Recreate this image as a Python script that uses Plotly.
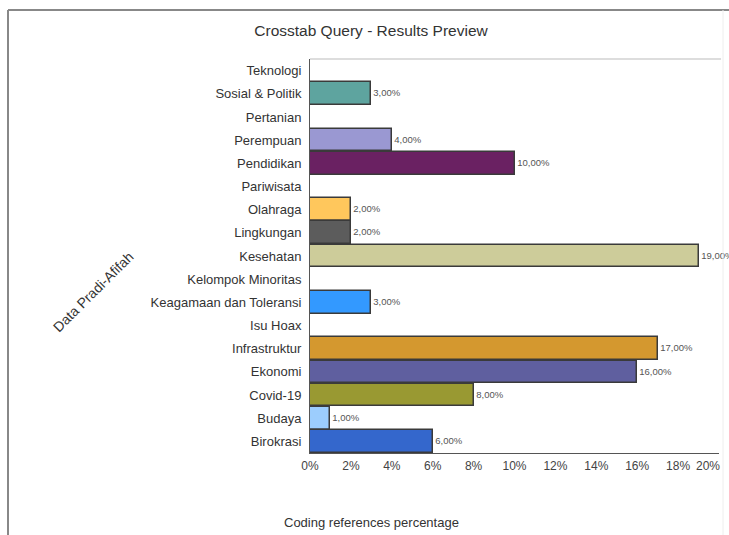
import plotly.graph_objects as go

# Categories listed top to bottom as they appear on the axis
categories = [
    "Teknologi", "Sosial & Politik", "Pertanian", "Perempuan", "Pendidikan",
    "Pariwisata", "Olahraga", "Lingkungan", "Kesehatan", "Kelompok Minoritas",
    "Keagamaan dan Toleransi", "Isu Hoax", "Infrastruktur", "Ekonomi",
    "Covid-19", "Budaya", "Birokrasi",
]
percentages = [0, 3, 0, 4, 10, 0, 2, 2, 19, 0, 3, 0, 17, 16, 8, 1, 6]
bar_colors = [
    "#ffffff", "#5ea49f", "#ffffff", "#9a98d2", "#6a2162",
    "#ffffff", "#ffc75c", "#5c5c5c", "#cdcc9a", "#ffffff",
    "#3399ff", "#ffffff", "#d4982f", "#5f5f9f",
    "#999932", "#9ccdfd", "#3467cc",
]
x_ticks = [0, 2, 4, 6, 8, 10, 12, 14, 16, 18, 20]
x_tick_labels = [f"{t}%" for t in x_ticks]

labels = [(f"{v:.2f}".replace(".", ",") + "%") if v > 0 else "" for v in percentages]

FONT = "Liberation Sans, Arial, sans-serif"

fig = go.Figure(
    go.Bar(
        x=percentages,
        y=categories,
        orientation="h",
        marker=dict(color=bar_colors, line=dict(color="#3a3a3a", width=1.5)),
        text=labels,
        textposition="outside",
        textfont=dict(family=FONT, size=9.5, color="#555555"),
        cliponaxis=False,
        width=[0.98 if v > 0 else 0 for v in percentages],
    )
)

# the last tick label sits flush against the right end of the axis
fig.add_annotation(
    text=x_tick_labels[-1],
    xref="x", yref="paper",
    x=x_ticks[-1], y=0,
    xanchor="right", yanchor="top",
    xshift=3, yshift=-4,
    showarrow=False,
    font=dict(family=FONT, size=12, color="#444444"),
)

fig.update_layout(
    width=729,
    height=535,
    margin=dict(l=310, r=10, t=59, b=82),
    paper_bgcolor="white",
    plot_bgcolor="white",
    showlegend=False,
    font=dict(family=FONT, color="#333333"),
    bargap=0,
    title=dict(
        text="Crosstab Query - Results Preview",
        x=371 / 729, xref="container", xanchor="center",
        y=1 - 31 / 535, yref="container", yanchor="middle",
        font=dict(family=FONT, size=15.5, color="#333333"),
    ),
    xaxis=dict(
        range=[0, 20],
        tickvals=x_ticks[:-1],
        ticktext=x_tick_labels[:-1],
        showgrid=False,
        zeroline=False,
        showline=True,
        linecolor="#555555",
        linewidth=1,
        ticks="",
        ticklabelstandoff=2,
        tickfont=dict(family=FONT, size=12, color="#444444"),
        fixedrange=True,
    ),
    yaxis=dict(
        autorange="reversed",
        showgrid=False,
        zeroline=False,
        showline=True,
        linecolor="#555555",
        linewidth=1,
        ticks="",
        ticklabelstandoff=5,
        tickfont=dict(family=FONT, size=13, color="#333333"),
        fixedrange=True,
    ),
    annotations=list(fig.layout.annotations) + [
        dict(
            text="Coding references percentage",
            xref="paper", yref="paper",
            x=(371 - 310) / 409, y=(453 - 522) / 394,
            xanchor="center", yanchor="middle",
            showarrow=False,
            font=dict(family=FONT, size=13, color="#333333"),
        ),
        dict(
            text="Data Pradi-Afifah",
            xref="paper", yref="paper",
            x=(93 - 310) / 409, y=(453 - 292) / 394,
            xanchor="center", yanchor="middle",
            textangle=-45,
            showarrow=False,
            font=dict(family=FONT, size=14, color="#333333"),
        ),
    ],
    shapes=[
        # light line along the top of the plot area
        dict(type="line", xref="paper", yref="paper", x0=0, x1=1.005, y0=1, y1=1,
             line=dict(color="#dddddd", width=2)),
        # outer frame: top and left edges
        dict(type="line", xref="paper", yref="paper",
             x0=(8 - 310) / 409, x1=(729 - 310) / 409,
             y0=(453 - 10) / 394, y1=(453 - 10) / 394,
             line=dict(color="#888888", width=2)),
        dict(type="line", xref="paper", yref="paper",
             x0=(8 - 310) / 409, x1=(8 - 310) / 409,
             y0=(453 - 10) / 394, y1=(453 - 540) / 394,
             line=dict(color="#888888", width=2)),
        # faint right edge of the frame
        dict(type="line", xref="paper", yref="paper",
             x0=(723 - 310) / 409, x1=(723 - 310) / 409,
             y0=(453 - 10) / 394, y1=(453 - 540) / 394,
             line=dict(color="#eeeeee", width=1)),
    ],
)

fig.write_html("out.html")
